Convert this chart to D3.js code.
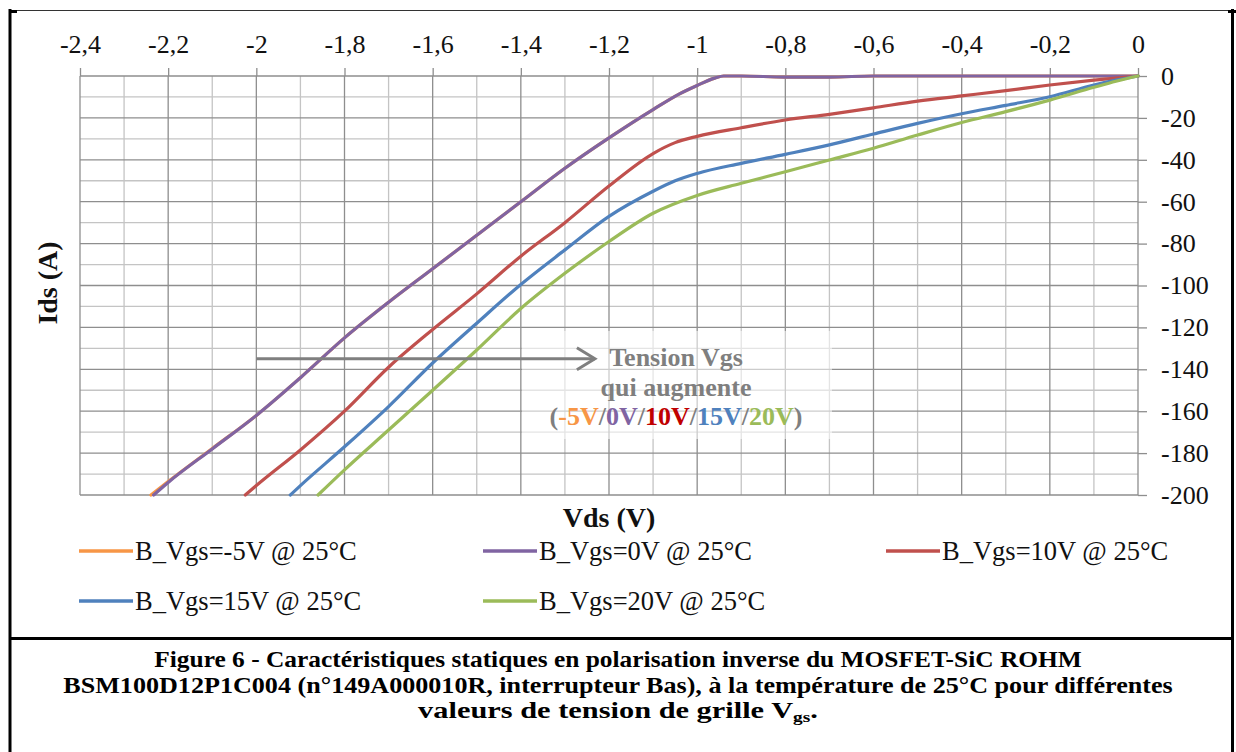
<!DOCTYPE html>
<html><head><meta charset="utf-8">
<script src="https://cdn.jsdelivr.net/npm/d3@7"></script>
<style>
html,body{margin:0;padding:0;background:#fff;}
svg{display:block;font-family:"Liberation Serif","Times New Roman",serif;}
</style></head><body>
<svg id="chart" width="1236" height="752"></svg>
<script>
// ---------- DATA ----------
const seriesNames  = ["B_Vgs=-5V @ 25°C","B_Vgs=0V @ 25°C","B_Vgs=10V @ 25°C","B_Vgs=15V @ 25°C","B_Vgs=20V @ 25°C"];
const seriesColors = ["#F79646","#8064A2","#C0504D","#4F81BD","#9BBB59"];

const vdsM5 = [0,-0.2,-0.4,-0.6,-0.7,-0.8,-0.9,-0.94,-0.96,-1.0,-1.04,-1.1,-1.2,-1.3,-1.4,-1.5,-1.6,-1.7,-1.8,-1.9,-2.0,-2.1,-2.2,-2.239];
const idsM5 = [0,0,0,0,-0.5,-0.5,0,0,-1,-4.5,-8.5,-16,-29.5,-44,-60,-76,-92,-108,-125,-144,-162,-177.8,-193.6,-200];

const vds0 = [0,-0.2,-0.4,-0.6,-0.7,-0.8,-0.9,-0.94,-0.96,-1.0,-1.04,-1.1,-1.2,-1.3,-1.4,-1.5,-1.6,-1.7,-1.8,-1.9,-2.0,-2.1,-2.2,-2.233];
const ids0 = [0,0,0,0,-0.5,-0.5,0,0,-1,-4.5,-8.5,-16,-29.5,-44,-60,-76,-92,-108,-125,-144,-162,-178,-194,-200];

const vds10 = [0,-0.1,-0.2,-0.3,-0.4,-0.5,-0.6,-0.7,-0.8,-0.9,-1.0,-1.05,-1.1,-1.2,-1.3,-1.4,-1.5,-1.6,-1.7,-1.8,-1.9,-2.0,-2.025];
const ids10 = [0,-2,-4.3,-7,-9.5,-12,-15.2,-18.3,-21,-24.7,-28.8,-31.8,-37,-52.5,-70,-86,-104,-121,-139,-160,-178.5,-195.5,-200];

const vds15 = [0,-0.05,-0.1,-0.2,-0.3,-0.4,-0.5,-0.6,-0.7,-0.8,-0.9,-1.0,-1.05,-1.1,-1.2,-1.3,-1.4,-1.5,-1.6,-1.7,-1.8,-1.9,-1.923];
const ids15 = [0,-2,-4.3,-9.9,-14,-18,-22.6,-27.7,-32.9,-37.4,-41.7,-46.5,-50,-55,-67,-83,-99.5,-118,-137,-157.8,-177,-195.5,-200];

const vds20 = [0,-0.05,-0.1,-0.2,-0.3,-0.4,-0.5,-0.6,-0.7,-0.8,-0.9,-1.0,-1.1,-1.2,-1.3,-1.4,-1.5,-1.6,-1.7,-1.8,-1.86];
const ids20 = [0,-2.5,-5.4,-11.5,-17,-22.2,-28.2,-34.5,-40.1,-45.7,-51.2,-57,-65.5,-79,-94.2,-111,-130.8,-150,-169,-188,-200];

const xMajorTicks = [-2.4,-2.2,-2,-1.8,-1.6,-1.4,-1.2,-1,-0.8,-0.6,-0.4,-0.2,0];
const yMajorTicks = [0,-20,-40,-60,-80,-100,-120,-140,-160,-180,-200];

const xTitle = "Vds (V)";
const yTitle = "Ids (A)";
const noteLines = ["Tension Vgs","qui augmente"];
const noteParts = [["(","#7f7f7f"],["-5V","#F79646"],["/","#7f7f7f"],["0V","#8064A2"],["/","#7f7f7f"],["10V","#C00000"],["/","#7f7f7f"],["15V","#4F81BD"],["/","#7f7f7f"],["20V","#9BBB59"],[")","#7f7f7f"]];
const captionLines = [
  "Figure 6 - Caractéristiques statiques en polarisation inverse du MOSFET-SiC ROHM",
  "BSM100D12P1C004 (n°149A000010R, interrupteur Bas), à la température de 25°C pour différentes",
  "valeurs de tension de grille V"
];

const seriesData = [[vdsM5,idsM5],[vds0,ids0],[vds10,ids10],[vds15,ids15],[vds20,ids20]]
  .map(([v,i],k)=>({name:seriesNames[k],color:seriesColors[k],
    pts:v.map((d,j)=>({v:d,i:i[j]})).sort((a,b)=>a.v-b.v)}));

// ---------- CHART ----------
const FONT = "'Liberation Serif','Times New Roman',serif";
const svg = d3.select("#chart");
const x = d3.scaleLinear().domain([-2.4,0]).range([80,1138]);
const y = d3.scaleLinear().domain([0,-200]).range([76,495]);
const loc = d3.formatLocale({decimal:",",thousands:" ",grouping:[3],currency:["",""],minus:"-"});
const fmt = v => loc.format("")(+v.toFixed(1));

// frame
const frame = svg.append("g");
frame.append("line").attr("x1",10).attr("x2",1232).attr("y1",10.5).attr("y2",10.5).attr("stroke","#333").attr("stroke-width",1.2);
frame.append("line").attr("x1",10).attr("x2",10).attr("y1",9).attr("y2",752).attr("stroke","#000").attr("stroke-width",3);
frame.append("line").attr("x1",1232.5).attr("x2",1232.5).attr("y1",9).attr("y2",752).attr("stroke","#000").attr("stroke-width",3);
frame.append("line").attr("x1",9).attr("x2",1234).attr("y1",638.5).attr("y2",638.5).attr("stroke","#000").attr("stroke-width",3);
frame.append("rect").attr("x",9).attr("y",10).attr("width",8).attr("height",3).attr("fill","#000");
frame.append("rect").attr("x",1228).attr("y",10).attr("width",8).attr("height",3).attr("fill","#000");

// grid
const minorX = d3.range(-2.3,0,0.2).map(d=>+d.toFixed(1));
const minorY = d3.range(-10,-200,-20);
const grid = svg.append("g");
grid.selectAll(".mx").data(minorX).join("line")
  .attr("x1",d=>x(d)).attr("x2",d=>x(d)).attr("y1",y(0)).attr("y2",y(-200))
  .attr("stroke","#c4c4c4").attr("stroke-width",1.3);
grid.selectAll(".my").data(minorY).join("line")
  .attr("x1",x(-2.4)).attr("x2",x(0)).attr("y1",d=>y(d)).attr("y2",d=>y(d))
  .attr("stroke","#c4c4c4").attr("stroke-width",1.3);
grid.selectAll(".Mx").data(xMajorTicks).join("line")
  .attr("x1",d=>x(d)).attr("x2",d=>x(d)).attr("y1",y(0)).attr("y2",y(-200))
  .attr("stroke","#8e8e8e").attr("stroke-width",1.3);
grid.selectAll(".My").data(yMajorTicks).join("line")
  .attr("x1",x(-2.4)).attr("x2",x(0)).attr("y1",d=>y(d)).attr("y2",d=>y(d))
  .attr("stroke","#8e8e8e").attr("stroke-width",1.3);

// axes
const xAxis = svg.append("g").attr("transform",`translate(0,${y(0)})`)
  .call(d3.axisTop(x).tickValues(xMajorTicks).tickSize(8).tickPadding(15).tickFormat(fmt));
const yAxis = svg.append("g").attr("transform",`translate(${x(0)},0)`)
  .call(d3.axisRight(y).tickValues(yMajorTicks).tickSize(9).tickPadding(14).tickFormat(fmt));
[xAxis,yAxis].forEach(a=>{
  a.attr("font-family",FONT).attr("font-size",26);
  a.select(".domain").remove();
  a.selectAll(".tick line").attr("stroke","#8e8e8e").attr("stroke-width",1.3);
  a.selectAll(".tick text").attr("font-family",FONT).attr("font-size",26).attr("fill","#111");
});

// annotation box (semi-transparent)
svg.append("rect").attr("x",522).attr("y",331).attr("width",310).attr("height",108)
  .attr("fill","#fff").attr("opacity",0.55);

// series
const line = d3.line().x(d=>x(d.v)).y(d=>y(d.i)).curve(d3.curveMonotoneX);
svg.append("g").selectAll("path").data(seriesData).join("path")
  .attr("d",d=>line(d.pts)).attr("fill","none").attr("stroke",d=>d.color)
  .attr("stroke-width",3.2).attr("stroke-linejoin","round").attr("stroke-linecap","round");

// arrow
const arrowY = -135;
const ax0 = x(-2.0), ax1 = x(-1.232), ay = y(arrowY);
svg.append("line").attr("x1",ax0).attr("x2",ax1).attr("y1",ay).attr("y2",ay)
  .attr("stroke","#7f7f7f").attr("stroke-width",3);
svg.append("path").attr("d",`M${ax1-18},${ay-11}L${ax1},${ay}L${ax1-18},${ay+11}`)
  .attr("fill","none").attr("stroke","#7f7f7f").attr("stroke-width",3).attr("stroke-linejoin","miter");

// note text
const noteX = x(-1.048);
const note = svg.append("g").attr("font-family",FONT).attr("font-weight","bold").attr("font-size",26).attr("text-anchor","middle");
note.selectAll("text.l").data(noteLines).join("text").attr("class","l")
  .attr("x",noteX).attr("y",(d,k)=>366+k*29.5).attr("fill","#7f7f7f").text(d=>d);
const nt = note.append("text").attr("x",noteX).attr("y",425);
nt.selectAll("tspan").data(noteParts).join("tspan").attr("fill",d=>d[1]).text(d=>d[0]);

// axis titles
svg.append("text").attr("x",609).attr("y",527).attr("text-anchor","middle").attr("font-family",FONT)
  .attr("font-weight","bold").attr("font-size",28).attr("fill","#111").text(xTitle);
svg.append("text").attr("transform","translate(57,283) rotate(-90)").attr("text-anchor","middle").attr("font-family",FONT)
  .attr("font-weight","bold").attr("font-size",28).attr("fill","#111").text(yTitle);

// legend
const legCol = [79,483,886], legRow = [551,601];
const leg = svg.append("g").selectAll("g").data(seriesData).join("g")
  .attr("transform",(d,k)=>`translate(${legCol[k%3]},${legRow[Math.floor(k/3)]})`);
leg.append("line").attr("x1",0).attr("x2",54).attr("y1",0).attr("y2",0)
  .attr("stroke",d=>d.color).attr("stroke-width",3.5);
leg.append("text").attr("x",56).attr("y",9).attr("font-family",FONT).attr("font-size",26.5).attr("fill","#111").text(d=>d.name);

// caption
const capW = [928,1110,400], capY = [667,693,718];
captionLines.forEach((t,k)=>{
  const g = svg.append("g");
  const tx = g.append("text").attr("x",0).attr("y",0).attr("text-anchor","middle").attr("font-family",FONT)
    .attr("font-weight","bold").attr("font-size",22).attr("fill","#000");
  tx.append("tspan").text(t);
  if(k===2){
    tx.append("tspan").attr("font-size",14).attr("dy",4).text("gs");
    tx.append("tspan").attr("dy",-4).text(".");
  }
  const w = tx.node().getComputedTextLength();
  g.attr("transform",`translate(618,${capY[k]}) scale(${capW[k]/w},1.08)`);
});
</script>
</body></html>
